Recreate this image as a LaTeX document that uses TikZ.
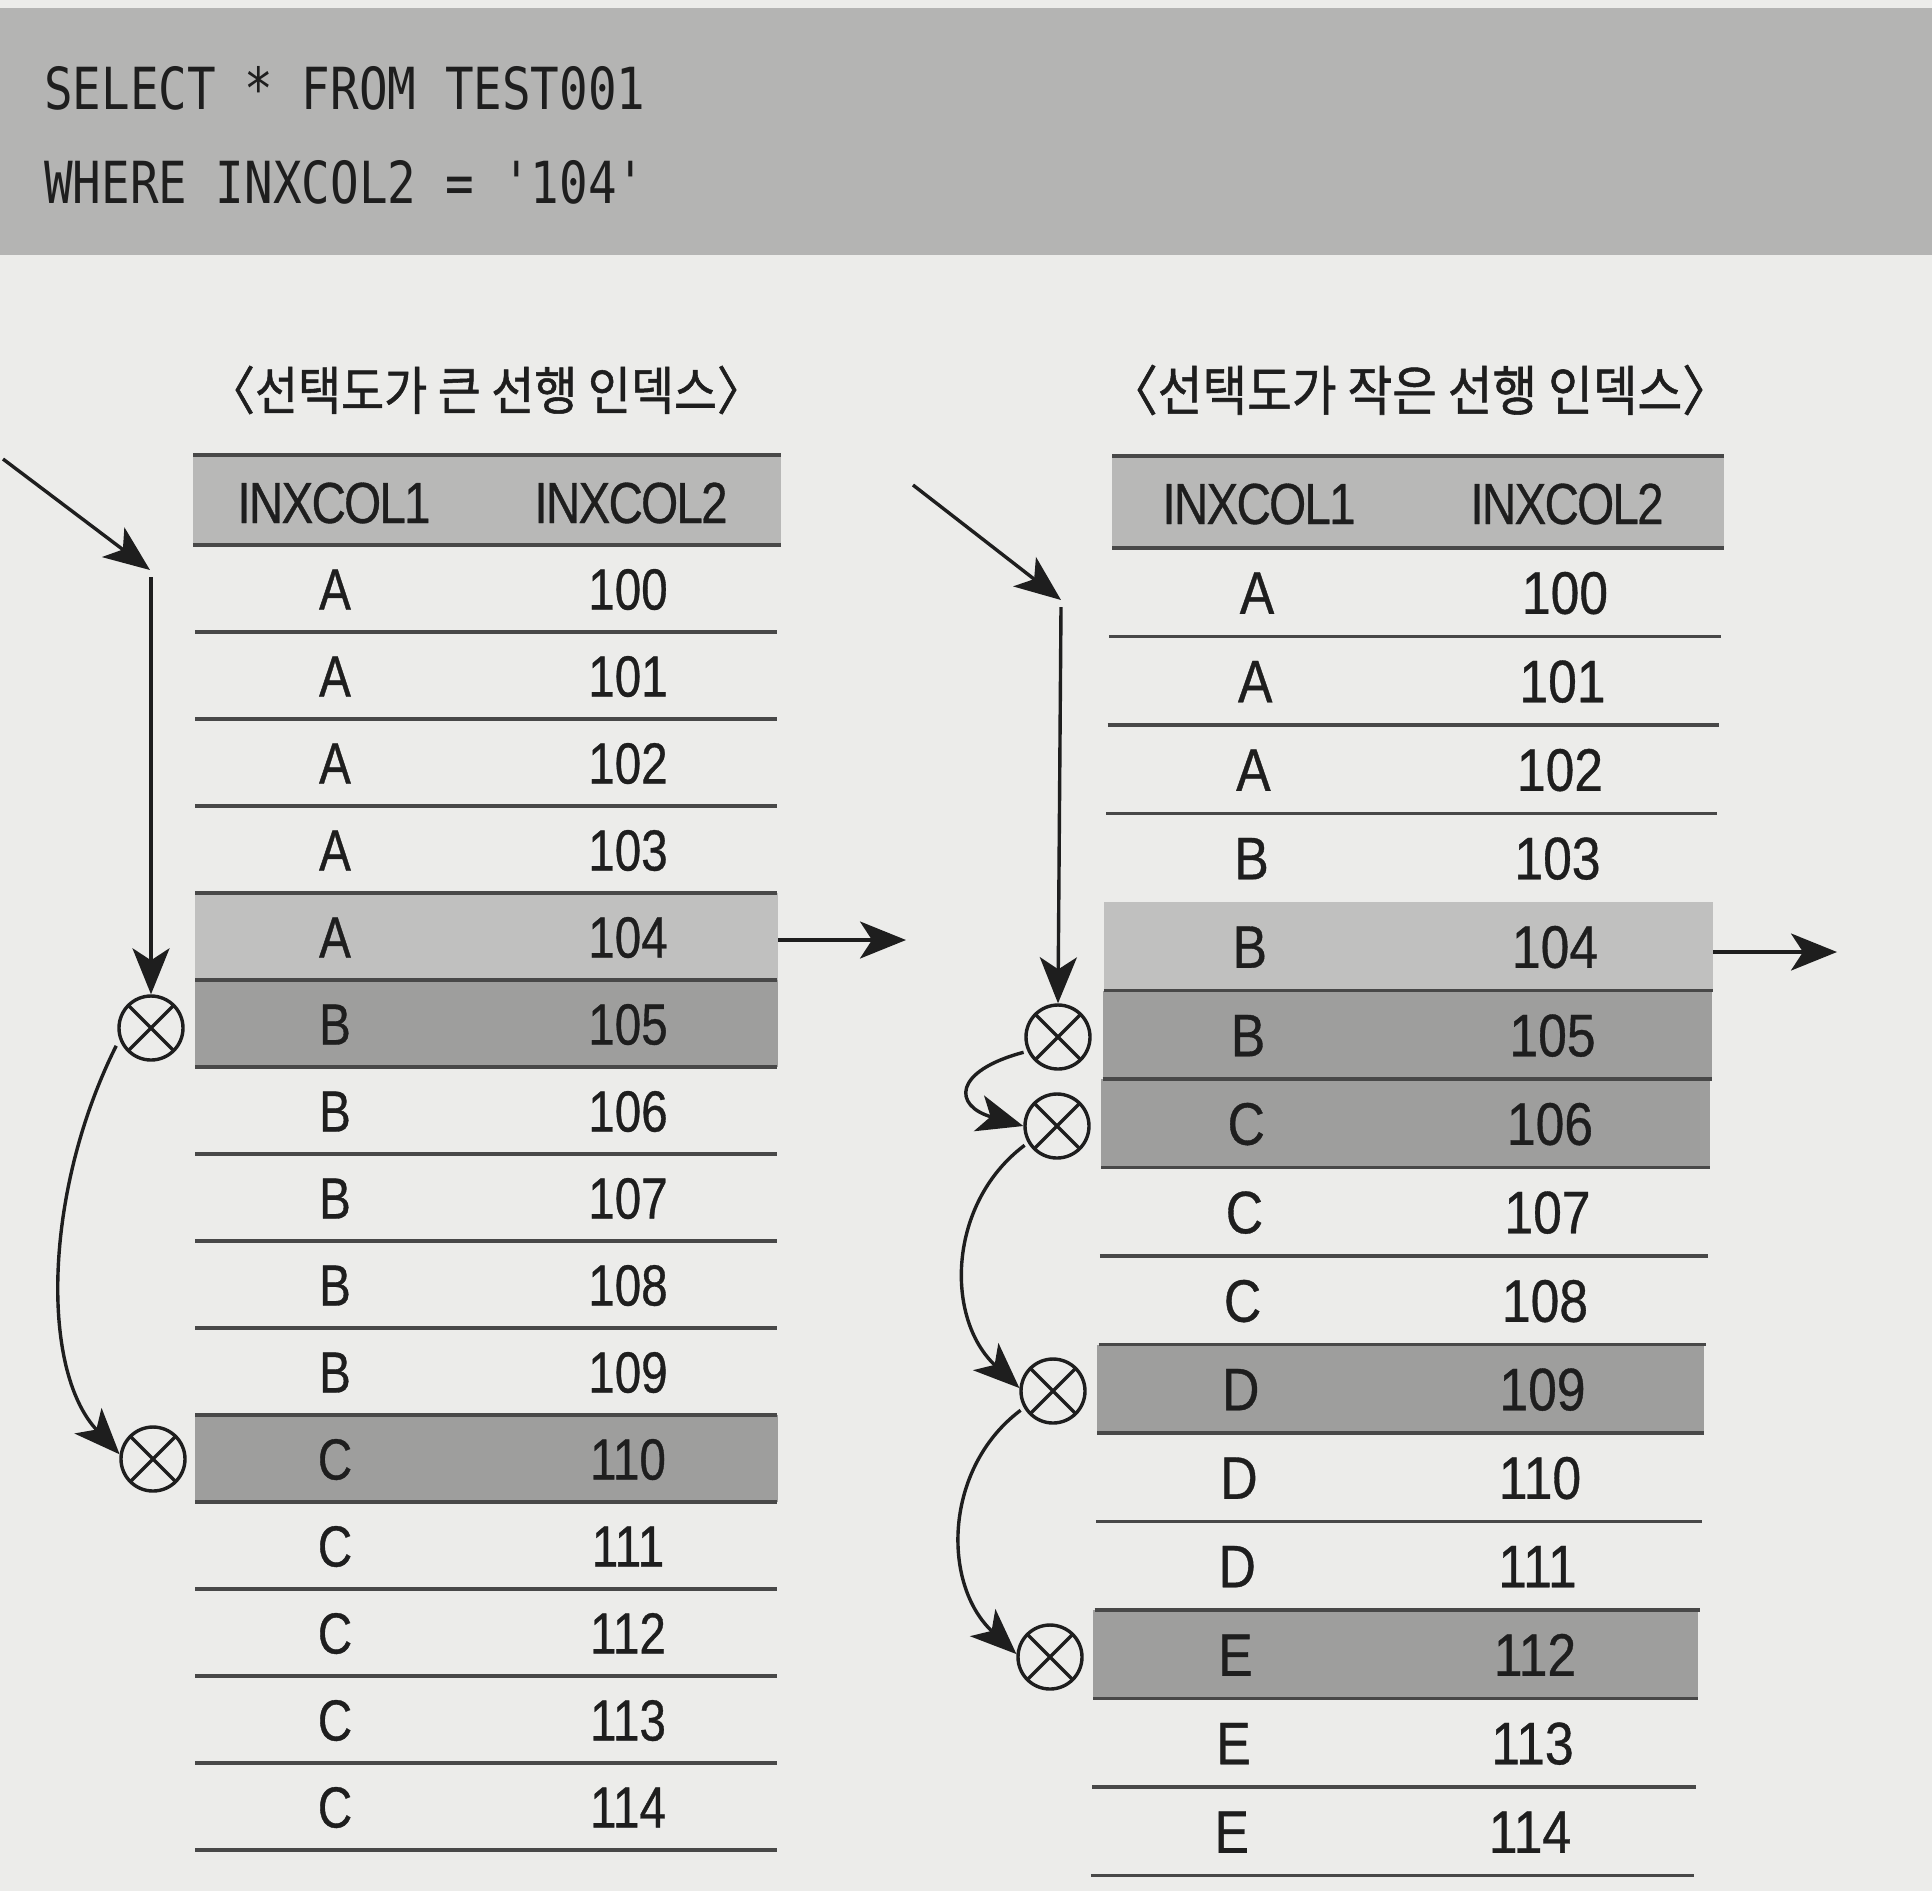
\documentclass[tikz,border=0pt]{standalone}
\usepackage{fontspec}
\setmainfont{Liberation Sans}
\newfontfamily\sqlfont[FakeStretch=0.82,Ligatures=TeXOff]{DejaVu Sans Mono}
\newfontfamily\cellfont[FakeStretch=0.82,FakeBold=0.6]{Liberation Sans}
\newfontfamily\cellfontR[FakeStretch=0.86,FakeBold=0.6]{Liberation Sans}
\newfontfamily\headfont[FakeStretch=0.82,LetterSpace=-3,FakeBold=0.6]{Liberation Sans}
\newfontfamily\krfont[FakeStretch=0.9,FakeBold=1]{Noto Sans CJK KR}
\usetikzlibrary{arrows.meta}
\definecolor{pagebg}{RGB}{236,236,234}
\definecolor{band}{RGB}{180,180,179}
\definecolor{hdr}{RGB}{184,184,183}
\definecolor{lightrow}{RGB}{192,192,191}
\definecolor{darkrow}{RGB}{158,158,157}
\definecolor{ink}{RGB}{30,30,30}
\definecolor{linec}{RGB}{72,72,72}
\tikzset{
  sqltext/.style={inner sep=0pt, text=ink, font=\sqlfont\fontsize{58}{60}\selectfont},
  title/.style={inner sep=0pt, text=ink},
  cellL/.style={inner sep=0pt, text height=42pt, text depth=0pt, text=ink, font=\cellfont\fontsize{58}{60}\selectfont},
  cellR/.style={inner sep=0pt, text height=43pt, text depth=0pt, text=ink, font=\cellfontR\fontsize{60}{62}\selectfont},
  headtext/.style={inner sep=0pt, text height=42pt, text depth=0pt, text=ink, font=\headfont\fontsize{58}{60}\selectfont},
  tline/.style={draw=linec, line width=3.4pt},
  rowbox/.style={draw=none, inner sep=0pt, outer sep=0pt, rectangle},
  arr/.style={draw=ink, line width=3.4pt, -{Stealth[length=46pt,width=37pt,inset=12pt]}},
  xmark/.style={circle, draw=ink, line width=3.4pt, minimum size=64pt, inner sep=0pt, fill=pagebg,
    path picture={\draw[ink, line width=3.4pt] (path picture bounding box.south west) -- (path picture bounding box.north east)
      (path picture bounding box.north west) -- (path picture bounding box.south east);}}
}
\begin{document}
\begin{tikzpicture}[x=1pt,y=1pt]
\useasboundingbox (0,0) rectangle (1932,-1891);
\fill[pagebg] (0,0) rectangle (1932,-1891);
% SQL band
\fill[band] (0,-8) rectangle (1932,-255);
\node[sqltext, anchor=base west] (sql1) at (44,-109) {SELECT * FROM TEST001};
\node[sqltext, anchor=base west] (sql2) at (44,-203) {WHERE INXCOL2 = '104'};
% titles
\node[title, font=\krfont\fontsize{52}{55}\selectfont] (tl) at (486,-390) {〈선택도가 큰 선행 인덱스〉};
\node[title, font=\krfont\fontsize{54}{57}\selectfont] (tr) at (1420,-390) {〈선택도가 작은 선행 인덱스〉};

% ---------------- left table ----------------
\fill[hdr] (193,-455) rectangle (781,-545);
\draw[tline] (193,-455) -- (781,-455);
\draw[tline] (193,-545) -- (781,-545);
\node[rowbox, fill=lightrow, minimum width=583pt, minimum height=87pt] (lrow4) at (486.5,-936.5) {};
\node[rowbox, fill=darkrow, minimum width=583pt, minimum height=87pt] (lrow5) at (486.5,-1023.5) {};
\node[rowbox, fill=darkrow, minimum width=583pt, minimum height=87pt] (lrow10) at (486.5,-1458.5) {};
\node[headtext] (lh1) at (334,-502) {INXCOL1};
\node[headtext] (lh2) at (631,-502) {INXCOL2};
\foreach \i/\a in {0/A,1/A,2/A,3/A,4/A,5/B,6/B,7/B,8/B,9/B,10/C,11/C,12/C,13/C,14/C} {
  \pgfmathsetmacro\yc{-(545+87*(\i+0.5))}
  \pgfmathsetmacro\yb{-(545+87*(\i+1))}
  \pgfmathtruncatemacro\n{100+\i}
  \node[cellL] (la\i) at (335,\yc) {\a};
  \node[cellL] (ln\i) at (628,\yc) {\n};
  \draw[tline] (195,\yb) -- (777,\yb);
}

% left arrows
\coordinate (lin) at (3,-459);
\coordinate (ltop) at (150,-570);
\coordinate (ltop2) at (151,-577);
\node[xmark] (lx1) at (151,-1028) {};
\node[xmark] (lx2) at (153,-1459) {};
\draw[arr] (lin) -- (ltop);
\draw[arr] (ltop2) -- (lx1.north);
\draw[arr, shorten <=7pt] (lx1.200) .. controls +(-75,-150) and +(-80,85) .. (lx2.172);
\coordinate (lout) at (906,-940);
\draw[arr] (lrow4.east |- 0,-940) -- (lout);

% ---------------- right table ----------------
\fill[hdr] (1112,-456) rectangle (1724,-548);
\draw[tline] (1112,-456) -- (1724,-456);
\draw[tline] (1112,-548) -- (1724,-548);
\foreach \i/\c in {4/lightrow,5/darkrow,6/darkrow,9/darkrow,12/darkrow} {
  \pgfmathsetmacro\yt{-(548+88.5*\i)}
  \pgfmathsetmacro\yb{-(548+88.5*(\i+1))}
  \pgfmathsetmacro\xl{1109-1.3*\i}
  \pgfmathsetmacro\xr{1721-1.9*\i}
  \fill[\c] (\xl,\yt) rectangle (\xr,\yb);
}
\node[headtext] (rh1) at (1259,-503) {INXCOL1};
\node[headtext] (rh2) at (1567,-503) {INXCOL2};
\foreach \i/\a in {0/A,1/A,2/A,3/B,4/B,5/B,6/C,7/C,8/C,9/D,10/D,11/D,12/E,13/E,14/E} {
  \pgfmathsetmacro\yc{-(548+88.5*(\i+0.5))}
  \pgfmathsetmacro\yb{-(548+88.5*(\i+1))}
  \pgfmathsetmacro\xa{1257-1.8*\i}
  \pgfmathsetmacro\xn{1565-2.5*\i}
  \pgfmathsetmacro\xl{1109-1.3*\i}
  \pgfmathsetmacro\xr{1721-1.9*\i}
  \pgfmathtruncatemacro\n{100+\i}
  \node[cellR] (ra\i) at (\xa,\yc) {\a};
  \node[cellR] (rn\i) at (\xn,\yc) {\n};
  \ifnum\i=3\else\draw[tline] (\xl,\yb) -- (\xr,\yb);\fi
}

% right arrows
\coordinate (rin) at (913,-485);
\coordinate (rtop) at (1061,-600);
\coordinate (rtop2) at (1061,-607);
\node[xmark] (rx1) at (1058,-1037) {};
\node[xmark] (rx2) at (1057,-1126) {};
\node[xmark] (rx3) at (1053,-1391) {};
\node[xmark] (rx4) at (1050,-1657) {};
\draw[arr] (rin) -- (rtop);
\draw[arr] (rtop2) -- (rx1.north);
\draw[arr, shorten <=4pt] (rx1.205) .. controls +(-75,-20) and +(-70,20) .. (rx2.180);
\draw[arr, shorten <=4pt] (rx2.210) .. controls +(-80,-60) and +(-75,70) .. (rx3.175);
\draw[arr, shorten <=4pt] (rx3.210) .. controls +(-80,-60) and +(-75,70) .. (rx4.175);
\coordinate (rout) at (1837,-952);
\draw[arr] (1713,-952) -- (rout);
\end{tikzpicture}
\end{document}
